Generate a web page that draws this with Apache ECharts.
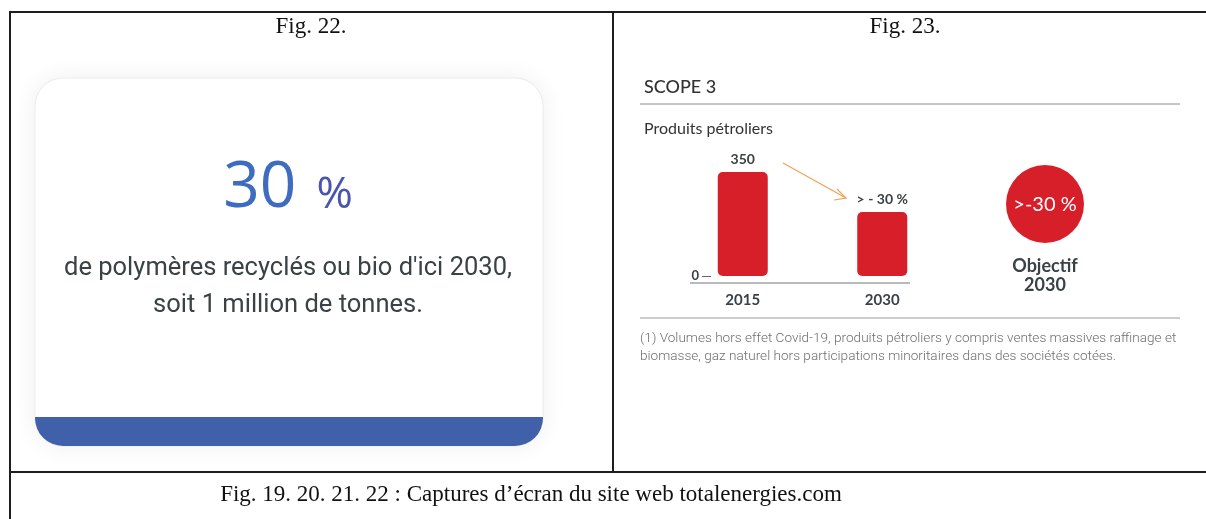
<!DOCTYPE html>
<html>
<head>
<meta charset="utf-8">
<script src="https://cdn.jsdelivr.net/npm/echarts@6/dist/echarts.min.js"></script>
<style>
  html, body { margin: 0; padding: 0; background: #fff; }
  #main { width: 1206px; height: 519px; }
</style>
</head>
<body>
<div id="main"></div>
<script>
// données
var years = ['2015', '2030'];
var volumes = [350, 215];
var barLabels = ['350', '> - 30 %'];
var yTicks = [0];

var serif = '"Liberation Serif", "DejaVu Serif", serif';
var geo = 'Lato, "Open Sans", sans-serif';
var red = '#d71f2a';
var dark = '#3a4246';

var chart = echarts.init(document.getElementById('main'));

var option = {
    backgroundColor: '#fff',
    animation: false,
    grid: {
        left: 673,
        width: 279,
        top: 172,
        height: 104
    },
    xAxis: {
        type: 'category',
        data: years,
        axisLine: { show: false },
        axisTick: { show: false },
        axisLabel: {
            margin: 17,
            color: dark,
            fontFamily: geo,
            fontWeight: 'bold',
            fontSize: 15
        }
    },
    yAxis: {
        type: 'value',
        min: 0,
        max: 350,
        interval: 350,
        offset: -38,
        splitLine: { show: false },
        axisLine: { show: false },
        axisTick: {
            show: true,
            customValues: yTicks,
            length: 9,
            lineStyle: { color: '#666', width: 1 }
        },
        axisLabel: {
            customValues: yTicks,
            margin: 12,
            color: dark,
            fontFamily: geo,
            fontWeight: 'bold',
            fontSize: 13
        }
    },
    series: [{
        type: 'bar',
        data: volumes,
        barWidth: 50,
        itemStyle: {
            color: red,
            borderRadius: 5
        },
        label: {
            show: true,
            position: 'top',
            distance: 6,
            color: dark,
            fontFamily: geo,
            fontWeight: 'bold',
            fontSize: 14,
            formatter: function (p) {
                return barLabels[p.dataIndex];
            }
        }
    }],
    graphic: [
        /**
         * cadre du tableau
         */
        { type: 'line', shape: { x1: 9, y1: 12, x2: 1206, y2: 12 }, style: { stroke: '#1e1e1e', lineWidth: 2 } },
        { type: 'line', shape: { x1: 10, y1: 12, x2: 10, y2: 519 }, style: { stroke: '#1e1e1e', lineWidth: 2 } },
        { type: 'line', shape: { x1: 613, y1: 12, x2: 613, y2: 472 }, style: { stroke: '#1e1e1e', lineWidth: 2 } },
        { type: 'line', shape: { x1: 9, y1: 472, x2: 1206, y2: 472 }, style: { stroke: '#1e1e1e', lineWidth: 2 } },
        { type: 'text', x: 311, y: 27, style: { text: 'Fig. 22.', font: '23px ' + serif, fill: '#111', align: 'center', verticalAlign: 'middle' } },
        { type: 'text', x: 905, y: 27, style: { text: 'Fig. 23.', font: '23px ' + serif, fill: '#111', align: 'center', verticalAlign: 'middle' } },
        { type: 'text', x: 531, y: 495, style: { text: 'Fig. 19. 20. 21. 22 : Captures d\u2019écran du site web totalenergies.com', font: '23px ' + serif, fill: '#111', align: 'center', verticalAlign: 'middle' } },

        /**
         * Fig. 22 - carte
         */
        {
            type: 'rect',
            shape: { x: 35, y: 78, width: 508, height: 368, r: 28 },
            style: { fill: '#fff', stroke: '#ececf0', lineWidth: 1, shadowBlur: 24, shadowColor: 'rgba(0,0,0,0.07)' }
        },
        {
            type: 'rect',
            shape: { x: 35, y: 417, width: 508, height: 29, r: [0, 0, 28, 28] },
            style: { fill: '#4060aa' }
        },
        {
            type: 'text', x: 288, y: 189,
            style: {
                text: '{a|30}{b|%}',
                align: 'center',
                verticalAlign: 'middle',
                rich: {
                    a: { fontFamily: '"Open Sans", sans-serif', fontSize: 64, fill: '#3d6cc0', color: '#3d6cc0' },
                    b: { fontFamily: '"Open Sans", sans-serif', fontSize: 44, fill: '#4955b0', color: '#4955b0', padding: [12, 0, 0, 20] }
                }
            }
        },
        { type: 'text', x: 288, y: 269, style: { text: 'de polymères recyclés ou bio d\'ici 2030,', font: '25.5px Roboto, sans-serif', fill: '#3a4245', align: 'center', verticalAlign: 'middle' } },
        { type: 'text', x: 288, y: 306, style: { text: 'soit 1 million de tonnes.', font: '25.5px Roboto, sans-serif', fill: '#3a4245', align: 'center', verticalAlign: 'middle' } },

        /**
         * Fig. 23 - scope 3
         */
        { type: 'text', x: 644, y: 87, style: { text: 'SCOPE 3', font: '500 18px ' + geo, fill: '#333', verticalAlign: 'middle' } },
        { type: 'line', shape: { x1: 640, y1: 104, x2: 1180, y2: 104 }, style: { stroke: '#8a8a8a', lineWidth: 1 } },
        { type: 'text', x: 644, y: 129, style: { text: 'Produits pétroliers', font: '16px ' + geo, fill: '#333', verticalAlign: 'middle' } },
        { type: 'line', shape: { x1: 690, y1: 283, x2: 910, y2: 283 }, style: { stroke: '#777', lineWidth: 1 } },
        { type: 'line', shape: { x1: 640, y1: 318, x2: 1180, y2: 318 }, style: { stroke: '#9a9a9a', lineWidth: 1 } },
        // flèche
        { type: 'line', shape: { x1: 783, y1: 163, x2: 846, y2: 198 }, style: { stroke: '#efa25a', lineWidth: 1.2 } },
        { type: 'polyline', shape: { points: [[837, 189], [846, 198], [834, 200]] }, style: { stroke: '#efa25a', lineWidth: 1.2, fill: null } },
        // objectif
        { type: 'circle', shape: { cx: 1045, cy: 204, r: 39 }, style: { fill: red } },
        { type: 'text', x: 1045, y: 205, style: { text: '>-30 %', font: '20px ' + geo, fill: '#fff', align: 'center', verticalAlign: 'middle' } },
        { type: 'text', x: 1045, y: 266, style: { text: 'Objectif', font: 'bold 18px ' + geo, fill: dark, align: 'center', verticalAlign: 'middle' } },
        { type: 'text', x: 1045, y: 285, style: { text: '2030', font: 'bold 18px ' + geo, fill: dark, align: 'center', verticalAlign: 'middle' } },
        // note
        { type: 'text', x: 640, y: 339, style: { text: '(1) Volumes hors effet Covid-19, produits pétroliers y compris ventes massives raffinage et', font: '300 13.6px Roboto, sans-serif', fill: '#6e6e6e', verticalAlign: 'middle' } },
        { type: 'text', x: 640, y: 357, style: { text: 'biomasse, gaz naturel hors participations minoritaires dans des sociétés cotées.', font: '300 13.6px Roboto, sans-serif', fill: '#6e6e6e', verticalAlign: 'middle' } }
    ]
};

chart.setOption(option);
</script>
</body>
</html>
